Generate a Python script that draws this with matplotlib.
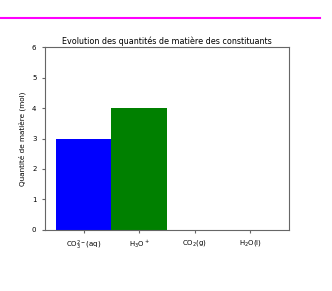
import matplotlib
matplotlib.use("Agg")
import matplotlib.pyplot as plt

# Données
especes = ['CO$_3^{2-}$(aq)', 'H$_3$O$^+$', 'CO$_2$(g)', 'H$_2$O(l)']
quantites = [3, 4, 0, 0]
couleurs = ['blue', 'green', 'red', 'orange']

fig = plt.figure(figsize=(3.32, 2.91), dpi=100)
fig.add_artist(plt.Line2D([0.0, 0.965], [0.938, 0.938], color='magenta', lw=1.5))

ax = fig.add_axes([0.135, 0.21, 0.735, 0.628])
ax.bar(range(len(especes)), quantites, width=1.0, color=couleurs)
ax.set_xticks(range(len(especes)))
ax.set_xticklabels(especes, fontsize=5)
ax.set_ylim(0, 6)
ax.tick_params(axis='both', labelsize=5, length=2.5, width=0.8, color='0.4')
ax.set_ylabel('Quantité de matière (mol)', fontsize=5.2)
ax.set_title('Evolution des quantités de matière des constituants', fontsize=5.8, pad=2)
for s in ax.spines.values():
    s.set_linewidth(0.8)
    s.set_color('0.4')

fig.savefig("out.png", dpi=100)
